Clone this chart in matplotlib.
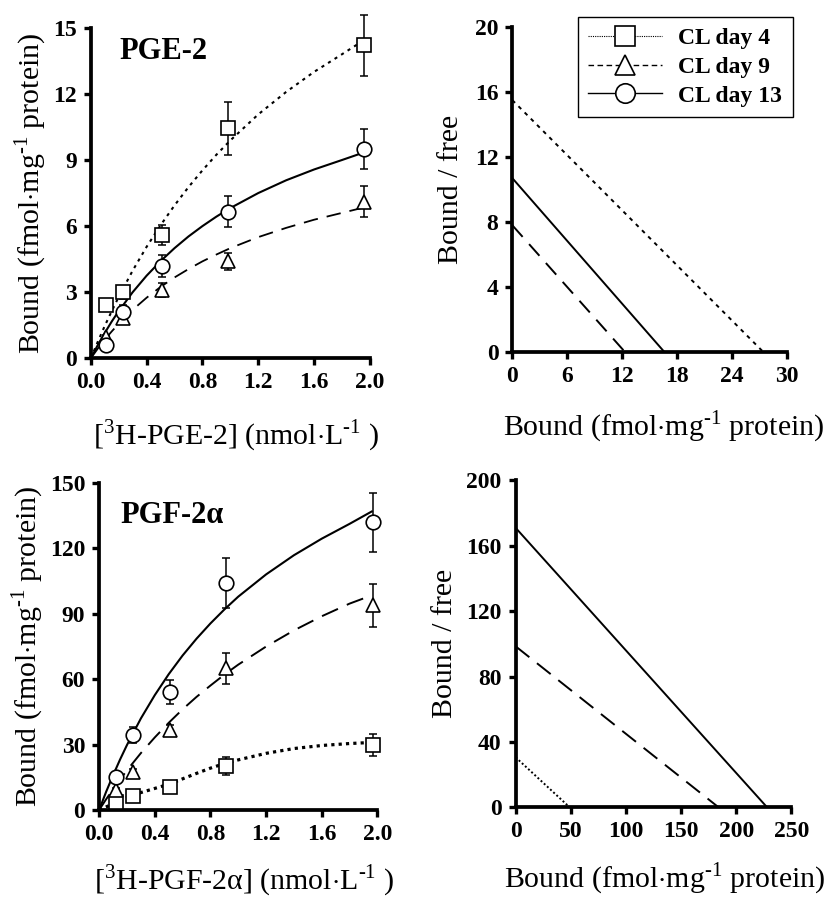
import matplotlib
matplotlib.use('Agg')
from matplotlib import pyplot as plt
import matplotlib.lines as mlines

plt.rcParams['font.family'] = 'Liberation Serif'
plt.rcParams['mathtext.fontset'] = 'custom'
plt.rcParams['mathtext.rm'] = 'Liberation Serif'

# ---- PGE-2 saturation data ----
pge_x = [0.11, 0.23, 0.51, 0.98, 1.96]
pge_day4 = [2.4, 3.0, 5.6, 10.45, 14.2]
pge_day4_err = [0.2, 0.3, 0.45, 1.2, 1.4]
pge_day9 = [0.95, 1.85, 3.1, 4.4, 7.1]
pge_day9_err = [0.1, 0.2, 0.3, 0.4, 0.7]
pge_day13 = [0.6, 2.1, 4.2, 6.65, 9.5]
pge_day13_err = [0.1, 0.3, 0.5, 0.7, 0.9]

# fitted curves
curve_x = [0, 0.05, 0.1, 0.15, 0.2, 0.3, 0.4, 0.5, 0.6, 0.7, 0.8, 0.9, 1.0, 1.2, 1.4, 1.6, 1.8, 1.96]
pge_curve_day4 = [0, 0.75, 1.47, 2.14, 2.79, 3.98, 5.06, 6.04, 6.94, 7.77, 8.53, 9.24, 9.89,
                  11.07, 12.09, 13.0, 13.8, 14.45]
pge_curve_day9 = [0, 0.44, 0.85, 1.22, 1.57, 2.2, 2.75, 3.24, 3.67, 4.05, 4.4, 4.71, 5.0,
                  5.5, 5.92, 6.29, 6.6, 6.85]
pge_curve_day13 = [0, 0.6, 1.15, 1.67, 2.14, 3.0, 3.75, 4.41, 5.0, 5.53, 6.0, 6.43, 6.82,
                   7.5, 8.08, 8.57, 9.0, 9.35]

# ---- PGE-2 Scatchard lines (end points) ----
pge_sc_day4 = ([0, 27.4], [15.5, 0])
pge_sc_day9 = ([0, 12.3], [7.8, 0])
pge_sc_day13 = ([0, 16.6], [10.7, 0])

# ---- PGF-2a saturation data ----
pgf_x = [0.12, 0.245, 0.51, 0.91, 1.97]
pgf_day4 = [3.7, 6.4, 10.6, 20.2, 29.8]
pgf_day4_err = [0.5, 1.0, 2.0, 4.0, 5.0]
pgf_day9 = [9.2, 17.4, 36.7, 65, 94]
pgf_day9_err = [1.0, 1.5, 2.5, 7.0, 9.8]
pgf_day13 = [15.1, 34.4, 54, 104, 132]
pgf_day13_err = [2.0, 3.5, 5.5, 11.5, 13.5]

pgf_curve_day4 = [0, 1.4, 2.8, 4.2, 5.6, 8.0, 9.9, 11.8, 14.3, 16.8, 19.2, 21.3, 23.0,
                  26.0, 28.2, 29.6, 30.5, 31.0]
pgf_curve_day9 = [0, 4.9, 9.5, 13.95, 18.2, 26.1, 33.3, 40.0, 46.2, 51.9, 57.1, 62.1, 66.7,
                  75.0, 82.4, 88.9, 94.7, 98.5]
pgf_curve_day13 = [0, 8.3, 15.9, 23.1, 29.8, 42.0, 52.7, 62.3, 70.9, 78.6, 85.6, 92.0, 97.9,
                   108.1, 116.9, 124.5, 131.3, 137.0]

pgf_sc_day4 = ([0, 49], [30.6, 0])
pgf_sc_day9 = ([0, 184], [98.5, 0])
pgf_sc_day13 = ([0, 228], [171, 0])

TICK_SIZE = 17
LABEL_SIZE = 21.5
TAG_SIZE = 22

dot_fine = (0, (1.5, 2.2))
dash_long = (0, (8, 5))
minus1 = '$^{\\mathregular{\u20101}}$'
bound_label = 'Bound (fmol$\\cdot$mg' + minus1 + ' protein)'


def style_axes(ax, xlim, ylim, xticks, yticks, xfmt):
    for side in ['top', 'right']:
        ax.spines[side].set_visible(False)
    for side in ['left', 'bottom']:
        ax.spines[side].set_linewidth(2.7)
    ax.set_xlim(xlim)
    ax.set_ylim(ylim)
    ax.set_xticks(xticks)
    ax.set_xticklabels([xfmt.format(t) for t in xticks])
    ax.set_yticks(yticks)
    ax.set_yticklabels([str(t) for t in yticks])
    ax.tick_params(direction='out', length=5, width=2.4, labelsize=TICK_SIZE, pad=5)
    for lab in ax.get_xticklabels() + ax.get_yticklabels():
        lab.set_fontweight('bold')


def draw_points(ax, x, y, err, marker, ms):
    ax.errorbar(x, y, yerr=err, fmt='none', ecolor='black', elinewidth=1.1,
                capsize=3, capthick=1.1, zorder=3, clip_on=False)
    ax.plot(x, y, linestyle='none', marker=marker, ms=ms, mfc='white', mec='black',
            mew=1.2, zorder=4, clip_on=False)


fig = plt.figure(figsize=(8.33, 8.98), dpi=100)

# top left: PGE-2 saturation
ax1 = fig.add_axes([0.109, 0.601, 0.335, 0.368])
ax1.plot(curve_x, pge_curve_day4, color='black', lw=1.5, linestyle=dot_fine)
ax1.plot(curve_x, pge_curve_day9, color='black', lw=1.3, linestyle=dash_long)
ax1.plot(curve_x, pge_curve_day13, color='black', lw=1.5)
draw_points(ax1, pge_x, pge_day4, pge_day4_err, 's', 10)
draw_points(ax1, pge_x, pge_day9, pge_day9_err, '^', 10)
draw_points(ax1, pge_x, pge_day13, pge_day13_err, 'o', 10.5)
style_axes(ax1, (0, 2.0), (0, 15), [0, 0.4, 0.8, 1.2, 1.6, 2.0], [0, 3, 6, 9, 12, 15], '{:.1f}')
ax1.set_ylabel(bound_label, fontsize=LABEL_SIZE, labelpad=3)
ax1.set_xlabel('[$^{\\mathregular{3}}$H-PGE-2] (nmol$\\cdot$L' + minus1 + ' )', fontsize=LABEL_SIZE, labelpad=18)
ax1.xaxis.label.set_x(0.52)
ax1.text(0.104, 0.927, 'PGE-2', transform=ax1.transAxes, fontsize=TAG_SIZE, fontweight='bold', va='center')

# top right: PGE-2 Scatchard
ax2 = fig.add_axes([0.615, 0.608, 0.330, 0.362])
ax2.plot(*pge_sc_day4, color='black', lw=1.4, linestyle=(0, (2, 2.5)))
ax2.plot(*pge_sc_day9, color='black', lw=1.4, linestyle=dash_long)
ax2.plot(*pge_sc_day13, color='black', lw=1.4)
style_axes(ax2, (0, 30), (0, 20), [0, 6, 12, 18, 24, 30], [0, 4, 8, 12, 16, 20], '{:d}')
ax2.set_ylabel('Bound / free', fontsize=LABEL_SIZE, labelpad=8)
ax2.set_xlabel(bound_label, fontsize=LABEL_SIZE, labelpad=16)
ax2.xaxis.label.set_x(0.55)

handles = [
    mlines.Line2D([], [], color='black', lw=0.8, linestyle=(0, (1, 1)), marker='s', ms=14, mfc='white', mew=1.2),
    mlines.Line2D([], [], color='black', lw=1.0, linestyle=(0, (4, 2.5)), marker='^', ms=14, mfc='white', mew=1.2),
    mlines.Line2D([], [], color='black', lw=1.0, marker='o', ms=14, mfc='white', mew=1.2),
]
leg = ax2.legend(handles, ['CL day 4', 'CL day 9', 'CL day 13'], loc='upper right',
                 bbox_to_anchor=(1.02, 1.03), borderaxespad=0, prop={'weight': 'bold', 'size': 17},
                 handlelength=3.1, fancybox=False, edgecolor='black', framealpha=1,
                 borderpad=0.45, labelspacing=0.3, handletextpad=0.7)
leg.get_frame().set_linewidth(1.0)

# bottom left: PGF-2a saturation
ax3 = fig.add_axes([0.119, 0.098, 0.334, 0.364])
ax3.plot(curve_x, pgf_curve_day4, color='black', lw=2.3, linestyle=(0, (1, 1.3)),
         dash_capstyle='butt')
ax3.plot(curve_x, pgf_curve_day9, color='black', lw=1.4, linestyle=(0, (9, 5)))
ax3.plot(curve_x, pgf_curve_day13, color='black', lw=1.5)
draw_points(ax3, pgf_x, pgf_day4, pgf_day4_err, 's', 10)
draw_points(ax3, pgf_x, pgf_day9, pgf_day9_err, '^', 10)
draw_points(ax3, pgf_x, pgf_day13, pgf_day13_err, 'o', 10.5)
style_axes(ax3, (0, 2.0), (0, 150), [0, 0.4, 0.8, 1.2, 1.6, 2.0], [0, 30, 60, 90, 120, 150], '{:.1f}')
ax3.set_ylabel(bound_label, fontsize=LABEL_SIZE, labelpad=3)
ax3.set_xlabel('[$^{\\mathregular{3}}$H-PGF-2α] (nmol$\\cdot$L' + minus1 + ' )', fontsize=LABEL_SIZE, labelpad=13)
ax3.xaxis.label.set_x(0.52)
ax3.text(0.075, 0.90, 'PGF-2α', transform=ax3.transAxes, fontsize=TAG_SIZE, fontweight='bold', va='center')

# bottom right: PGF-2a Scatchard
ax4 = fig.add_axes([0.619, 0.101, 0.331, 0.364])
ax4.plot(*pgf_sc_day4, color='black', lw=1.4, linestyle=(0, (1, 1.2)))
ax4.plot(*pgf_sc_day9, color='black', lw=1.4, linestyle=(0, (9, 5)))
ax4.plot(*pgf_sc_day13, color='black', lw=1.4)
style_axes(ax4, (0, 250), (0, 200), [0, 50, 100, 150, 200, 250], [0, 40, 80, 120, 160, 200], '{:d}')
ax4.set_ylabel('Bound / free', fontsize=LABEL_SIZE, labelpad=6)
ax4.set_xlabel(bound_label, fontsize=LABEL_SIZE, labelpad=13)
ax4.xaxis.label.set_x(0.54)

plt.savefig('out.png', dpi=100)
